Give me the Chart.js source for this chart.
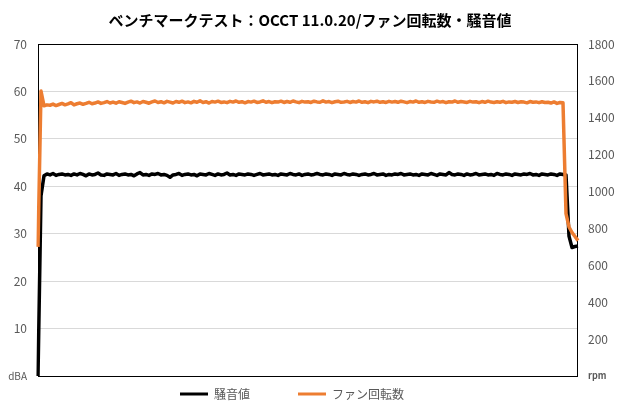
<!DOCTYPE html>
<html>
<head>
<meta charset="utf-8">
<script src="https://cdn.jsdelivr.net/npm/chart.js@4"></script>
<style>
  html, body { margin: 0; padding: 0; background: #fff; }
  #wrap { width: 620px; height: 410px; }
</style>
</head>
<body>
<div id="wrap"><canvas id="benchChart" width="620" height="410"></canvas></div>
<script>
// ===== DATA =====
var titleText = 'ベンチマークテスト：OCCT 11.0.20/ファン回転数・騒音値';
var seriesNames = ['騒音値', 'ファン回転数'];
var leftTicks = [0, 10, 20, 30, 40, 50, 60, 70];
var rightTicks = [0, 200, 400, 600, 800, 1000, 1200, 1400, 1600, 1800];

// noise level (dBA), one value per sample
var noiseValues = [
    0, 38, 42.2, 42.6, 42.4, 42.7, 42.3, 42.5, 42.6, 42.4,
    42.5, 42.3, 42.6, 42.4, 42.7, 42.5, 42.2, 42.6, 42.4, 42.5,
    42.8, 42.4, 42.3, 42.6, 42.5, 42.4, 42.7, 42.3, 42.5, 42.6,
    42.4, 42.5, 42.2, 42.6, 42.9, 42.4, 42.5, 42.3, 42.6, 42.5,
    42.7, 42.4, 42.5, 42.3, 41.9, 42.4, 42.5, 42.7, 42.3, 42.5,
    42.6, 42.4, 42.5, 42.2, 42.6, 42.5, 42.4, 42.7, 42.5, 42.3,
    42.6, 42.4, 42.5, 42.8, 42.4, 42.5, 42.3, 42.6, 42.5, 42.4,
    42.6, 42.5, 42.3, 42.5, 42.7, 42.4, 42.5, 42.6, 42.4, 42.5,
    42.3, 42.6, 42.5, 42.4, 42.7, 42.5, 42.4, 42.6, 42.3, 42.5,
    42.6, 42.4, 42.5, 42.7, 42.5, 42.4, 42.6, 42.5, 42.3, 42.6,
    42.5, 42.4, 42.7, 42.5, 42.4, 42.6, 42.5, 42.3, 42.5, 42.6,
    42.4, 42.5, 42.7, 42.4, 42.5, 42.6, 42.3, 42.5, 42.4, 42.6,
    42.5, 42.7, 42.4, 42.5, 42.6, 42.4, 42.5, 42.3, 42.6, 42.5,
    42.4, 42.7, 42.5, 42.3, 42.6, 42.5, 42.4, 42.9, 42.5, 42.4,
    42.6, 42.5, 42.3, 42.6, 42.4, 42.5, 42.7, 42.4, 42.5, 42.6,
    42.4, 42.5, 42.3, 42.7, 42.5, 42.4, 42.6, 42.5, 42.3, 42.6,
    42.5, 42.4, 42.6, 42.5, 42.7, 42.4, 42.5, 42.3, 42.6, 42.5,
    42.4, 42.6, 42.5, 42.3, 42.6, 42.5, 42.4, 29.5, 27.1, 27.3,
    27.4
];

// fan speed (rpm), one value per sample
var fanValues = [
    700, 1545, 1465, 1470, 1468, 1474, 1466, 1472, 1478, 1470,
    1475, 1482, 1470, 1476, 1480, 1473, 1478, 1484, 1476, 1480,
    1486, 1478, 1482, 1488, 1480, 1485, 1479, 1487, 1483, 1478,
    1485, 1490, 1482, 1486, 1480, 1488, 1484, 1479, 1486, 1491,
    1483, 1487, 1481, 1489, 1485, 1480, 1488, 1484, 1490, 1482,
    1486, 1481, 1489, 1484, 1492, 1483, 1487, 1480, 1488, 1485,
    1490, 1483, 1486, 1482, 1489, 1485, 1491, 1484, 1487, 1481,
    1488, 1485, 1490, 1483, 1486, 1492, 1484, 1488, 1482, 1487,
    1485, 1490, 1483, 1488, 1484, 1491, 1486, 1482, 1489, 1485,
    1487, 1483, 1490, 1486, 1484, 1492, 1485, 1488, 1482, 1487,
    1490, 1484, 1486, 1489, 1483, 1488, 1485, 1491, 1484, 1487,
    1482, 1489, 1486, 1490, 1484, 1487, 1483, 1489, 1485, 1488,
    1484, 1490, 1486, 1482, 1488, 1485, 1491, 1484, 1487, 1483,
    1489, 1486, 1484, 1490, 1485, 1488, 1482, 1487, 1485, 1491,
    1484, 1488, 1486, 1483, 1489, 1485, 1487, 1482, 1488, 1484,
    1490, 1485, 1483, 1487, 1484, 1489, 1482, 1486, 1484, 1488,
    1483, 1487, 1485, 1481, 1488, 1484, 1486, 1482, 1487, 1483,
    1484, 1480, 1486, 1478, 1483, 1481, 880, 808, 778, 756,
    734
];

var sampleLabels = noiseValues.map(function(v, i) { return String(i); });

// ===== COLOURS =====
var noiseColor = '#000000';
var fanColor = '#ED7D31';
var labelGray = '#595959';
var gridGray = '#d9d9d9';
var jpFont = "'Noto Sans CJK JP', 'Noto Sans', sans-serif";

// ===== PLOT FRAME =====
var framePlugin = {
    id: 'plotFrame',
    beforeDatasetsDraw: function(chart) {
        var a = chart.chartArea;
        var ctx = chart.ctx;
        ctx.save();
        ctx.strokeStyle = '#000000';
        ctx.lineWidth = 1;
        ctx.strokeRect(Math.round(a.left) + 0.5, Math.round(a.top) + 0.5,
            Math.round(a.right - a.left) - 1, Math.round(a.bottom - a.top));
        ctx.restore();
    }
};

// ===== CHART =====
var ctx = document.getElementById('benchChart').getContext('2d');
var benchChart = new Chart(ctx, {
    type: 'line',
    data: {
        labels: sampleLabels,
        datasets: [{
            label: seriesNames[0],
            data: noiseValues,
            yAxisID: 'y',
            borderColor: noiseColor,
            backgroundColor: noiseColor,
            borderWidth: 3.5,
            borderJoinStyle: 'round',
            pointRadius: 0,
            tension: 0,
            order: 2
        }, {
            label: seriesNames[1],
            data: fanValues,
            yAxisID: 'y1',
            borderColor: fanColor,
            backgroundColor: fanColor,
            borderWidth: 3.5,
            borderJoinStyle: 'round',
            pointRadius: 0,
            tension: 0,
            order: 1
        }]
    },
    options: {
        responsive: false,
        animation: false,
        devicePixelRatio: 1,
        layout: { padding: { left: 0, right: 0, top: 0, bottom: 0 } },
        plugins: {
            title: {
                display: true,
                text: titleText,
                color: '#000000',
                font: { family: jpFont, size: 15, weight: 'bold' },
                padding: { top: 11, bottom: 15 }
            },
            legend: {
                position: 'bottom',
                labels: {
                    boxWidth: 28,
                    boxHeight: 3,
                    padding: 12,
                    color: labelGray,
                    font: { family: jpFont, size: 12 },
                    generateLabels: function(chart) {
                        var items = Chart.defaults.plugins.legend.labels.generateLabels(chart);
                        items.forEach(function(item) {
                            item.lineWidth = 0;
                            item.text = item.text + '\u3000\u3000\u3000';
                        });
                        items.sort(function(a, b) { return a.datasetIndex - b.datasetIndex; });
                        return items;
                    }
                }
            },
            tooltip: { enabled: false }
        },
        scales: {
            x: {
                display: true,
                grid: { display: false },
                border: { display: false },
                ticks: { display: false },
                afterFit: function(scale) { scale.height = 0; }
            },
            y: {
                position: 'left',
                min: leftTicks[0],
                max: leftTicks[leftTicks.length - 1],
                afterBuildTicks: function(scale) {
                    scale.ticks = leftTicks.map(function(v) { return { value: v }; });
                },
                grid: {
                    color: function(c) {
                        return (c.tick.value === 0 || c.tick.value === 70) ? 'rgba(0,0,0,0)' : gridGray;
                    },
                    drawTicks: false
                },
                border: { display: false },
                ticks: {
                    padding: 11,
                    color: labelGray,
                    font: function(c) {
                        return (c.tick && c.tick.value === 0) ? { family: jpFont, size: 10 } : { family: jpFont, size: 12 };
                    },
                    callback: function(value) {
                        return value === 0 ? 'dBA' : value;
                    }
                },
                afterFit: function(scale) { scale.width = 38; }
            },
            y1: {
                position: 'right',
                min: rightTicks[0],
                max: rightTicks[rightTicks.length - 1],
                afterBuildTicks: function(scale) {
                    scale.ticks = rightTicks.map(function(v) { return { value: v }; });
                },
                grid: { display: false, drawTicks: false },
                border: { display: false },
                ticks: {
                    padding: 10,
                    color: labelGray,
                    font: function(c) {
                        return (c.tick && c.tick.value === 0) ? { family: jpFont, size: 9, weight: 'bold' } : { family: jpFont, size: 12 };
                    },
                    callback: function(value) {
                        return value === 0 ? 'rpm' : value;
                    }
                },
                afterFit: function(scale) { scale.width = 42; }
            }
        }
    },
    plugins: [framePlugin]
});
</script>
</body>
</html>
